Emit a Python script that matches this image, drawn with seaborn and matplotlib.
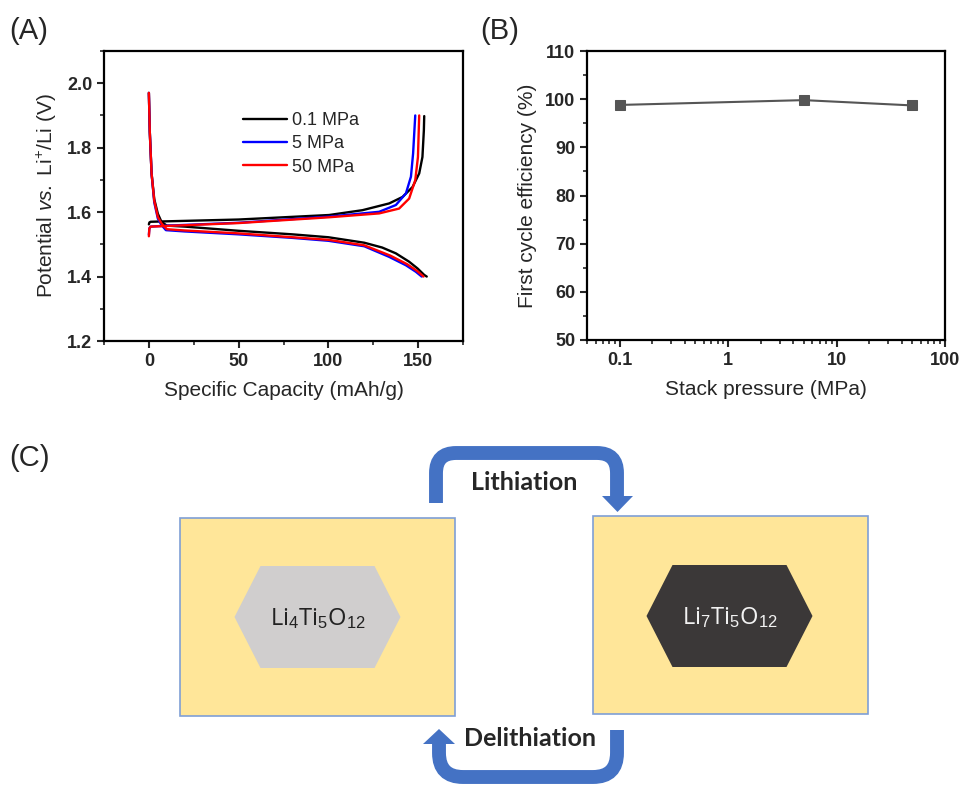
import numpy as np
import pandas as pd
import matplotlib
matplotlib.use("Agg")
import matplotlib.pyplot as plt
import matplotlib.patches as mpatches
from matplotlib.path import Path
from matplotlib.ticker import MultipleLocator, LogLocator, NullFormatter
import seaborn as sns

# ---- (A) charge/discharge curves ----
pressures = ["0.1 MPa", "5 MPa", "50 MPa"]
colors = ["black", "#0000ff", "#ff0000"]

dis_x_01 = [0, 0.5, 1.5, 3, 5, 7, 10, 20, 50, 80, 100, 120, 130, 137.6, 145, 149.7, 153.4, 154.8]
dis_y_01 = [1.97, 1.85, 1.72, 1.64, 1.595, 1.57, 1.558, 1.555, 1.542, 1.531, 1.522, 1.505, 1.49, 1.472, 1.446, 1.425, 1.405, 1.40]
chg_x_01 = [0, 0.3, 1, 7, 50, 100.4, 119, 133.9, 141.3, 146.9, 150.6, 152.4, 153.2, 153.4]
chg_y_01 = [1.562, 1.568, 1.57, 1.571, 1.577, 1.591, 1.606, 1.627, 1.647, 1.678, 1.72, 1.771, 1.854, 1.898]

dis_x_5 = [0, 0.5, 1.5, 3, 5, 7, 9.5, 20, 50, 80, 100, 120, 133.9, 143.2, 148.7, 152]
dis_y_5 = [1.97, 1.85, 1.72, 1.63, 1.58, 1.56, 1.544, 1.54, 1.531, 1.52, 1.511, 1.494, 1.461, 1.435, 1.415, 1.40]
chg_x_5 = [0, 0.3, 1, 10, 50, 100.4, 128.3, 137.6, 143.2, 146, 147.2, 148.4]
chg_y_5 = [1.53, 1.55, 1.555, 1.558, 1.567, 1.586, 1.601, 1.622, 1.658, 1.71, 1.782, 1.90]

dis_x_50 = [0, 0.5, 1.5, 3, 5, 7, 10, 20, 50, 80, 100, 120, 134.5, 144, 149.5, 153]
dis_y_50 = [1.97, 1.85, 1.72, 1.635, 1.585, 1.565, 1.547, 1.543, 1.534, 1.522, 1.514, 1.497, 1.465, 1.438, 1.417, 1.40]
chg_x_50 = [0, 0.3, 1, 10, 50, 100.4, 128.3, 139.4, 145, 148.4, 149.9, 150.6]
chg_y_50 = [1.525, 1.55, 1.555, 1.557, 1.566, 1.584, 1.596, 1.611, 1.642, 1.699, 1.771, 1.90]

discharge = [(dis_x_01, dis_y_01), (dis_x_5, dis_y_5), (dis_x_50, dis_y_50)]
charge = [(chg_x_01, chg_y_01), (chg_x_5, chg_y_5), (chg_x_50, chg_y_50)]

# ---- (B) first cycle efficiency ----
stack_pressure = [0.1, 5, 50]
efficiency = [98.8, 99.8, 98.7]

sns.set_style("ticks")
plt.rcParams["font.family"] = ["Liberation Sans", "DejaVu Sans"]
plt.rcParams["mathtext.fontset"] = "custom"
plt.rcParams["mathtext.rm"] = "Liberation Sans"
plt.rcParams["mathtext.it"] = "Liberation Sans:italic"

fig = plt.figure(figsize=(9.6, 7.86), dpi=100)


def style_axes(ax):
    for s in ax.spines.values():
        s.set_linewidth(1.6)
        s.set_color("black")
    ax.tick_params(which="major", direction="out", length=5, width=1.5,
                   labelsize=13, top=False, right=False)
    ax.tick_params(which="minor", direction="out", length=3, width=1.2,
                   top=False, right=False)
    for lab in ax.get_xticklabels() + ax.get_yticklabels():
        lab.set_fontweight("bold")


# panel A
axa = fig.add_axes([104 / 960, 1 - 341 / 786, 359 / 960, 290 / 786])
for (dx, dy), (cx, cy), c, lab in zip(discharge, charge, colors, pressures):
    sns.lineplot(x=dx, y=dy, ax=axa, color=c, lw=1.7, sort=False, label=lab)
    sns.lineplot(x=cx, y=cy, ax=axa, color=c, lw=1.7, sort=False)
axa.set_xlim(-25, 175)
axa.set_ylim(1.2, 2.1)
axa.xaxis.set_major_locator(MultipleLocator(50))
axa.xaxis.set_minor_locator(MultipleLocator(25))
axa.yaxis.set_minor_locator(MultipleLocator(0.1))
axa.set_yticks([1.2, 1.4, 1.6, 1.8, 2.0])
axa.set_xlabel("Specific Capacity (mAh/g)", fontsize=15, labelpad=8)
axa.set_ylabel("Potential $\\it{vs.}$ Li$^{+}$/Li (V)", fontsize=15, labelpad=6)
style_axes(axa)
axa.legend(loc="upper left", bbox_to_anchor=(0.366, 0.815), frameon=False,
           fontsize=13, handlelength=2.45, handletextpad=0.3, labelspacing=0.35,
           borderaxespad=0)

# panel B
axb = fig.add_axes([587 / 960, 1 - 340 / 786, 358 / 960, 289 / 786])
sns.lineplot(x=stack_pressure, y=efficiency, ax=axb, color="#555555", lw=1.5,
             marker="s", markersize=7, markeredgecolor="#555555")
axb.set_xscale("log")
axb.set_xlim(0.05, 100)
axb.set_ylim(50, 110)
axb.set_xticks([0.1, 1, 10, 100], ["0.1", "1", "10", "100"])
axb.xaxis.set_minor_locator(LogLocator(base=10, subs=np.arange(2, 10)))
axb.xaxis.set_minor_formatter(NullFormatter())
axb.yaxis.set_major_locator(MultipleLocator(10))
axb.yaxis.set_minor_locator(MultipleLocator(5))
axb.set_xlabel("Stack pressure (MPa)", fontsize=15, labelpad=8)
axb.set_ylabel("First cycle efficiency (%)", fontsize=15, labelpad=6)
style_axes(axb)

# panel C: schematic drawn in pixel coordinates
axc = fig.add_axes([0, 0, 1, 1], zorder=-1)
axc.set_xlim(0, 960)
axc.set_ylim(786, 0)
axc.axis("off")

box_fill = "#ffe699"
box_edge = "#7f9fd6"
arrow_c = "#4472c4"

for x0, y0 in [(180, 518), (593, 516)]:
    axc.add_patch(mpatches.Rectangle((x0, y0), 275, 198, facecolor=box_fill,
                                     edgecolor=box_edge, lw=1.2))

hex_specs = [((317.5, 617), "#d0cece", "#222222", "Li$_4$Ti$_5$O$_{12}$"),
             ((729.5, 616), "#3b3838", "#f2f2f2", "Li$_7$Ti$_5$O$_{12}$")]
for (cx, cy), fc, tc, txt in hex_specs:
    hw, tw, hh = 83, 57, 51
    pts = [(cx - tw, cy - hh), (cx + tw, cy - hh), (cx + hw, cy),
           (cx + tw, cy + hh), (cx - tw, cy + hh), (cx - hw, cy)]
    axc.add_patch(mpatches.Polygon(pts, closed=True, facecolor=fc, edgecolor="none"))
    axc.text(cx, cy + 2, txt, ha="center", va="center", fontsize=17, color=tc,
             family=["Open Sans", "DejaVu Sans"])


def bent_arrow(pts, r, lw):
    verts = [pts[0]]
    codes = [Path.MOVETO]
    for i in range(1, len(pts) - 1):
        p0, p1, p2 = map(np.array, (pts[i - 1], pts[i], pts[i + 1]))
        a = p1 + (p0 - p1) / np.linalg.norm(p0 - p1) * r
        b = p1 + (p2 - p1) / np.linalg.norm(p2 - p1) * r
        verts += [tuple(a), tuple(p1), tuple(b)]
        codes += [Path.LINETO, Path.CURVE3, Path.CURVE3]
    verts.append(pts[-1])
    codes.append(Path.LINETO)
    axc.add_patch(mpatches.PathPatch(Path(verts, codes), facecolor="none",
                                     edgecolor=arrow_c, lw=lw, capstyle="butt"))


bent_arrow([(436, 503), (436, 453), (617, 453), (617, 497)], 20, 10)
axc.add_patch(mpatches.Polygon([(602, 496), (633, 496), (617.5, 512)],
                               facecolor=arrow_c, edgecolor="none"))
bent_arrow([(617, 730), (617, 777), (439, 777), (439, 743)], 24, 10)
axc.add_patch(mpatches.Polygon([(423, 744), (455, 744), (439, 729)],
                               facecolor=arrow_c, edgecolor="none"))

axc.text(524, 482, "Lithiation", ha="center", va="center", fontsize=18,
         fontweight="bold", family=["Lato", "DejaVu Sans"])
axc.text(530, 739, "Delithiation", ha="center", va="center", fontsize=18,
         fontweight="bold", family=["Lato", "DejaVu Sans"])

for x, y, t in [(9, 31, "(A)"), (480, 31, "(B)"), (9, 458, "(C)")]:
    axc.text(x, y, t, ha="left", va="center", fontsize=21)

fig.savefig("out.png", dpi=100)
